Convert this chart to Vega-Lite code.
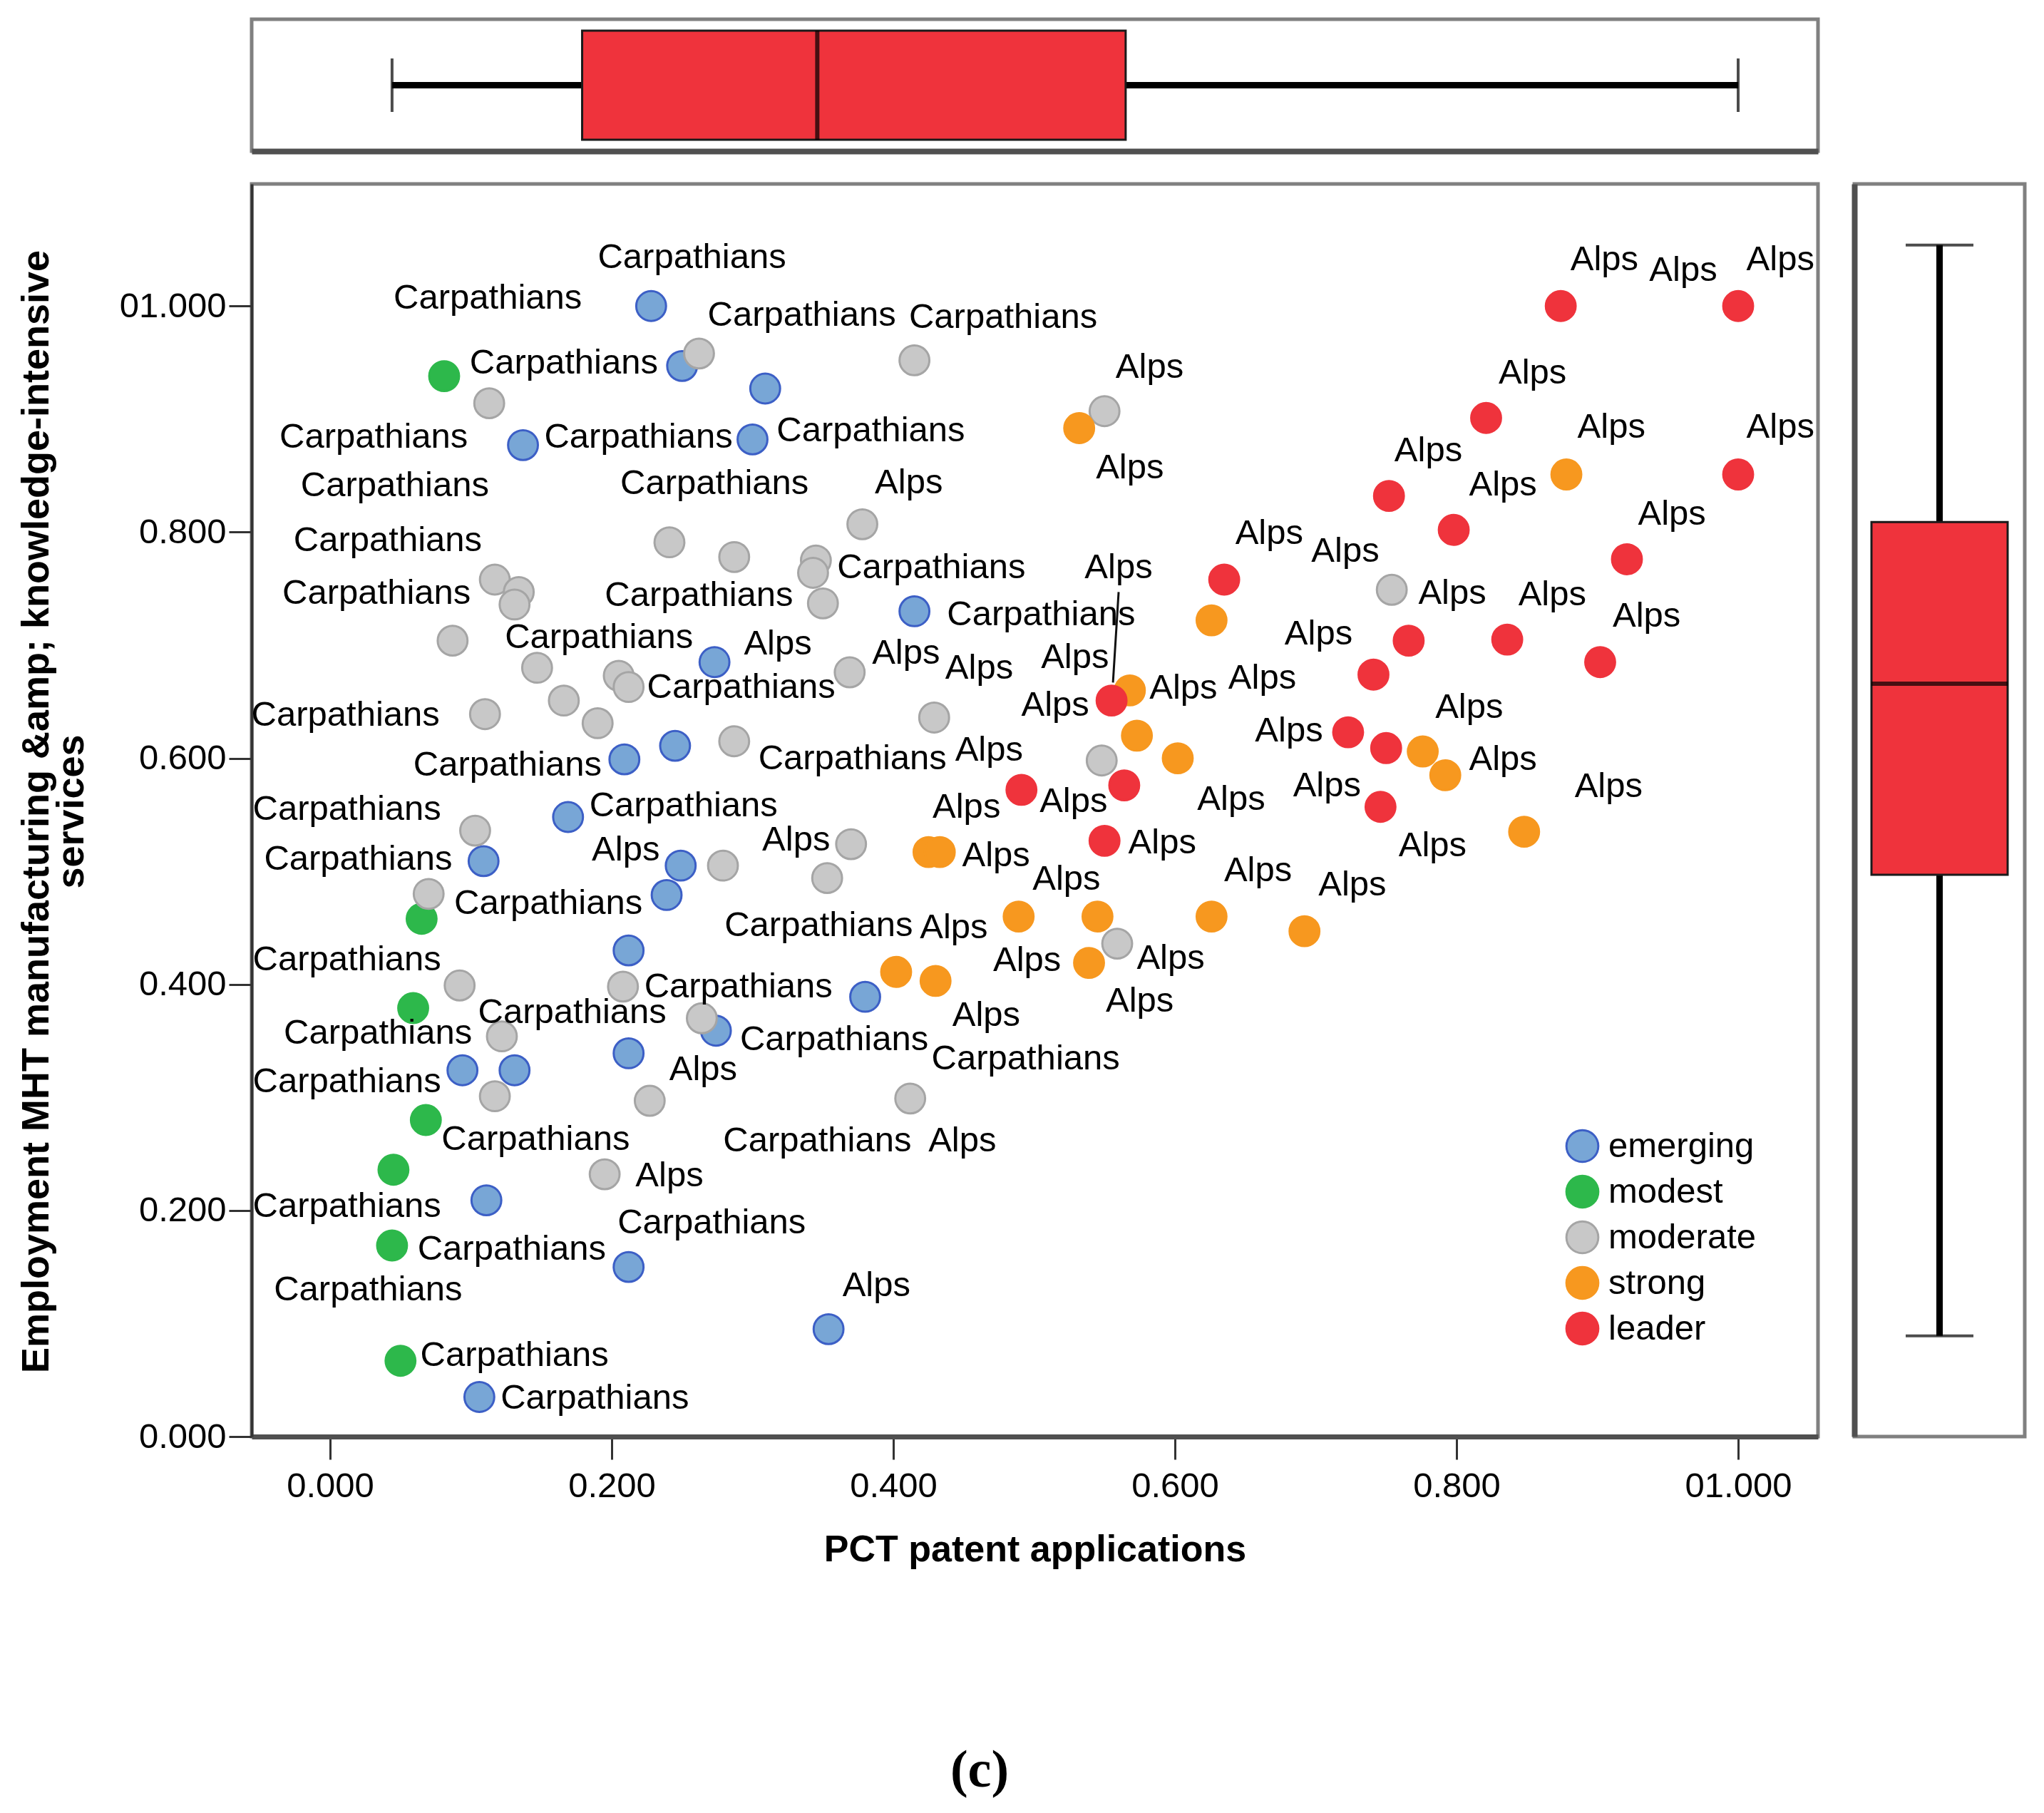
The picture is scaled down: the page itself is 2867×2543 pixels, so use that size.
{
  "$schema": "https://vega.github.io/schema/vega-lite/v6.json",
  "background": "white",
  "padding": {"left": 21, "top": 24, "right": 20, "bottom": 20},
  "config": {
    "font": "Liberation Sans",
    "view": {"stroke": "#808080", "strokeWidth": 5},
    "axis": {"grid": false}
  },
  "title": {
    "text": "(c)", "orient": "bottom", "anchor": "middle", "frame": "bounds",
    "font": "Liberation Serif", "fontSize": 74, "fontWeight": "bold", "color": "black",
    "offset": 246, "dx": -58
  },
  "datasets": {
    "xbox": [{"name": "PCT patent applications", "lower": 0.044, "q1": 0.179, "median": 0.346, "q3": 0.565, "upper": 1.0}],
    "ybox": [{"name": "Employment", "lower": 0.089, "q1": 0.497, "median": 0.666, "q3": 0.809, "upper": 1.054}],
    "leader": [{"pct": 0.560, "pct2": 0.556, "emp": 0.747, "emp2": 0.667}],
    "points": [
      {"pct": 0.228, "emp": 1.000, "level": "emerging"},
      {"pct": 0.250, "emp": 0.947, "level": "emerging"},
      {"pct": 0.309, "emp": 0.927, "level": "emerging"},
      {"pct": 0.137, "emp": 0.877, "level": "emerging"},
      {"pct": 0.300, "emp": 0.882, "level": "emerging"},
      {"pct": 0.415, "emp": 0.730, "level": "emerging"},
      {"pct": 0.273, "emp": 0.685, "level": "emerging"},
      {"pct": 0.209, "emp": 0.599, "level": "emerging"},
      {"pct": 0.245, "emp": 0.611, "level": "emerging"},
      {"pct": 0.169, "emp": 0.548, "level": "emerging"},
      {"pct": 0.109, "emp": 0.509, "level": "emerging"},
      {"pct": 0.249, "emp": 0.505, "level": "emerging"},
      {"pct": 0.239, "emp": 0.479, "level": "emerging"},
      {"pct": 0.212, "emp": 0.430, "level": "emerging"},
      {"pct": 0.380, "emp": 0.389, "level": "emerging"},
      {"pct": 0.274, "emp": 0.359, "level": "emerging"},
      {"pct": 0.212, "emp": 0.339, "level": "emerging"},
      {"pct": 0.094, "emp": 0.324, "level": "emerging"},
      {"pct": 0.131, "emp": 0.324, "level": "emerging"},
      {"pct": 0.111, "emp": 0.209, "level": "emerging"},
      {"pct": 0.212, "emp": 0.150, "level": "emerging"},
      {"pct": 0.354, "emp": 0.095, "level": "emerging"},
      {"pct": 0.106, "emp": 0.035, "level": "emerging"},
      {"pct": 0.081, "emp": 0.938, "level": "modest"},
      {"pct": 0.065, "emp": 0.458, "level": "modest"},
      {"pct": 0.059, "emp": 0.379, "level": "modest"},
      {"pct": 0.068, "emp": 0.280, "level": "modest"},
      {"pct": 0.045, "emp": 0.236, "level": "modest"},
      {"pct": 0.044, "emp": 0.169, "level": "modest"},
      {"pct": 0.050, "emp": 0.067, "level": "modest"},
      {"pct": 0.262, "emp": 0.958, "level": "moderate"},
      {"pct": 0.113, "emp": 0.914, "level": "moderate"},
      {"pct": 0.241, "emp": 0.791, "level": "moderate"},
      {"pct": 0.287, "emp": 0.778, "level": "moderate"},
      {"pct": 0.117, "emp": 0.758, "level": "moderate"},
      {"pct": 0.134, "emp": 0.747, "level": "moderate"},
      {"pct": 0.131, "emp": 0.736, "level": "moderate"},
      {"pct": 0.087, "emp": 0.704, "level": "moderate"},
      {"pct": 0.147, "emp": 0.680, "level": "moderate"},
      {"pct": 0.205, "emp": 0.673, "level": "moderate"},
      {"pct": 0.212, "emp": 0.663, "level": "moderate"},
      {"pct": 0.166, "emp": 0.651, "level": "moderate"},
      {"pct": 0.190, "emp": 0.631, "level": "moderate"},
      {"pct": 0.110, "emp": 0.639, "level": "moderate"},
      {"pct": 0.287, "emp": 0.615, "level": "moderate"},
      {"pct": 0.415, "emp": 0.952, "level": "moderate"},
      {"pct": 0.550, "emp": 0.907, "level": "moderate"},
      {"pct": 0.378, "emp": 0.807, "level": "moderate"},
      {"pct": 0.345, "emp": 0.775, "level": "moderate"},
      {"pct": 0.343, "emp": 0.764, "level": "moderate"},
      {"pct": 0.350, "emp": 0.737, "level": "moderate"},
      {"pct": 0.369, "emp": 0.676, "level": "moderate"},
      {"pct": 0.429, "emp": 0.636, "level": "moderate"},
      {"pct": 0.548, "emp": 0.598, "level": "moderate"},
      {"pct": 0.754, "emp": 0.749, "level": "moderate"},
      {"pct": 0.103, "emp": 0.536, "level": "moderate"},
      {"pct": 0.070, "emp": 0.480, "level": "moderate"},
      {"pct": 0.279, "emp": 0.505, "level": "moderate"},
      {"pct": 0.370, "emp": 0.524, "level": "moderate"},
      {"pct": 0.353, "emp": 0.494, "level": "moderate"},
      {"pct": 0.092, "emp": 0.399, "level": "moderate"},
      {"pct": 0.208, "emp": 0.398, "level": "moderate"},
      {"pct": 0.264, "emp": 0.370, "level": "moderate"},
      {"pct": 0.122, "emp": 0.354, "level": "moderate"},
      {"pct": 0.117, "emp": 0.301, "level": "moderate"},
      {"pct": 0.227, "emp": 0.297, "level": "moderate"},
      {"pct": 0.195, "emp": 0.232, "level": "moderate"},
      {"pct": 0.559, "emp": 0.436, "level": "moderate"},
      {"pct": 0.412, "emp": 0.299, "level": "moderate"},
      {"pct": 0.532, "emp": 0.892, "level": "strong"},
      {"pct": 0.878, "emp": 0.851, "level": "strong"},
      {"pct": 0.626, "emp": 0.722, "level": "strong"},
      {"pct": 0.568, "emp": 0.660, "level": "strong"},
      {"pct": 0.573, "emp": 0.620, "level": "strong"},
      {"pct": 0.602, "emp": 0.600, "level": "strong"},
      {"pct": 0.776, "emp": 0.606, "level": "strong"},
      {"pct": 0.792, "emp": 0.585, "level": "strong"},
      {"pct": 0.848, "emp": 0.535, "level": "strong"},
      {"pct": 0.425, "emp": 0.517, "level": "strong"},
      {"pct": 0.433, "emp": 0.517, "level": "strong"},
      {"pct": 0.489, "emp": 0.460, "level": "strong"},
      {"pct": 0.545, "emp": 0.460, "level": "strong"},
      {"pct": 0.626, "emp": 0.460, "level": "strong"},
      {"pct": 0.692, "emp": 0.447, "level": "strong"},
      {"pct": 0.402, "emp": 0.411, "level": "strong"},
      {"pct": 0.430, "emp": 0.403, "level": "strong"},
      {"pct": 0.539, "emp": 0.419, "level": "strong"},
      {"pct": 0.874, "emp": 1.000, "level": "leader"},
      {"pct": 1.000, "emp": 1.000, "level": "leader"},
      {"pct": 0.821, "emp": 0.901, "level": "leader"},
      {"pct": 1.000, "emp": 0.851, "level": "leader"},
      {"pct": 0.752, "emp": 0.832, "level": "leader"},
      {"pct": 0.798, "emp": 0.802, "level": "leader"},
      {"pct": 0.921, "emp": 0.776, "level": "leader"},
      {"pct": 0.635, "emp": 0.758, "level": "leader"},
      {"pct": 0.766, "emp": 0.704, "level": "leader"},
      {"pct": 0.836, "emp": 0.705, "level": "leader"},
      {"pct": 0.902, "emp": 0.685, "level": "leader"},
      {"pct": 0.741, "emp": 0.674, "level": "leader"},
      {"pct": 0.555, "emp": 0.651, "level": "leader"},
      {"pct": 0.723, "emp": 0.623, "level": "leader"},
      {"pct": 0.750, "emp": 0.609, "level": "leader"},
      {"pct": 0.491, "emp": 0.572, "level": "leader"},
      {"pct": 0.564, "emp": 0.576, "level": "leader"},
      {"pct": 0.746, "emp": 0.557, "level": "leader"},
      {"pct": 0.550, "emp": 0.527, "level": "leader"}
    ],
    "labels": [
      {"pct": 0.257, "emp": 1.043, "region": "Carpathians"},
      {"pct": 0.112, "emp": 1.007, "region": "Carpathians"},
      {"pct": 0.335, "emp": 0.992, "region": "Carpathians"},
      {"pct": 0.478, "emp": 0.990, "region": "Carpathians"},
      {"pct": 0.166, "emp": 0.950, "region": "Carpathians"},
      {"pct": 0.031, "emp": 0.884, "region": "Carpathians"},
      {"pct": 0.219, "emp": 0.884, "region": "Carpathians"},
      {"pct": 0.384, "emp": 0.890, "region": "Carpathians"},
      {"pct": 0.046, "emp": 0.841, "region": "Carpathians"},
      {"pct": 0.273, "emp": 0.843, "region": "Carpathians"},
      {"pct": 0.041, "emp": 0.793, "region": "Carpathians"},
      {"pct": 0.427, "emp": 0.769, "region": "Carpathians"},
      {"pct": 0.033, "emp": 0.746, "region": "Carpathians"},
      {"pct": 0.262, "emp": 0.744, "region": "Carpathians"},
      {"pct": 0.505, "emp": 0.727, "region": "Carpathians"},
      {"pct": 0.191, "emp": 0.707, "region": "Carpathians"},
      {"pct": 0.292, "emp": 0.663, "region": "Carpathians"},
      {"pct": 0.011, "emp": 0.638, "region": "Carpathians"},
      {"pct": 0.126, "emp": 0.594, "region": "Carpathians"},
      {"pct": 0.371, "emp": 0.600, "region": "Carpathians"},
      {"pct": 0.012, "emp": 0.555, "region": "Carpathians"},
      {"pct": 0.251, "emp": 0.558, "region": "Carpathians"},
      {"pct": 0.020, "emp": 0.511, "region": "Carpathians"},
      {"pct": 0.155, "emp": 0.472, "region": "Carpathians"},
      {"pct": 0.347, "emp": 0.452, "region": "Carpathians"},
      {"pct": 0.012, "emp": 0.422, "region": "Carpathians"},
      {"pct": 0.290, "emp": 0.398, "region": "Carpathians"},
      {"pct": 0.172, "emp": 0.375, "region": "Carpathians"},
      {"pct": 0.034, "emp": 0.357, "region": "Carpathians"},
      {"pct": 0.358, "emp": 0.351, "region": "Carpathians"},
      {"pct": 0.012, "emp": 0.314, "region": "Carpathians"},
      {"pct": 0.494, "emp": 0.334, "region": "Carpathians"},
      {"pct": 0.146, "emp": 0.263, "region": "Carpathians"},
      {"pct": 0.346, "emp": 0.262, "region": "Carpathians"},
      {"pct": 0.012, "emp": 0.204, "region": "Carpathians"},
      {"pct": 0.271, "emp": 0.189, "region": "Carpathians"},
      {"pct": 0.129, "emp": 0.166, "region": "Carpathians"},
      {"pct": 0.027, "emp": 0.130, "region": "Carpathians"},
      {"pct": 0.131, "emp": 0.072, "region": "Carpathians"},
      {"pct": 0.188, "emp": 0.034, "region": "Carpathians"},
      {"pct": 0.905, "emp": 1.041, "region": "Alps"},
      {"pct": 0.961, "emp": 1.032, "region": "Alps"},
      {"pct": 1.030, "emp": 1.041, "region": "Alps"},
      {"pct": 0.582, "emp": 0.946, "region": "Alps"},
      {"pct": 0.854, "emp": 0.941, "region": "Alps"},
      {"pct": 0.910, "emp": 0.893, "region": "Alps"},
      {"pct": 1.030, "emp": 0.893, "region": "Alps"},
      {"pct": 0.568, "emp": 0.857, "region": "Alps"},
      {"pct": 0.780, "emp": 0.872, "region": "Alps"},
      {"pct": 0.833, "emp": 0.842, "region": "Alps"},
      {"pct": 0.411, "emp": 0.844, "region": "Alps"},
      {"pct": 0.953, "emp": 0.816, "region": "Alps"},
      {"pct": 0.667, "emp": 0.799, "region": "Alps"},
      {"pct": 0.721, "emp": 0.783, "region": "Alps"},
      {"pct": 0.560, "emp": 0.769, "region": "Alps"},
      {"pct": 0.797, "emp": 0.746, "region": "Alps"},
      {"pct": 0.868, "emp": 0.745, "region": "Alps"},
      {"pct": 0.935, "emp": 0.726, "region": "Alps"},
      {"pct": 0.702, "emp": 0.710, "region": "Alps"},
      {"pct": 0.318, "emp": 0.701, "region": "Alps"},
      {"pct": 0.409, "emp": 0.693, "region": "Alps"},
      {"pct": 0.461, "emp": 0.680, "region": "Alps"},
      {"pct": 0.529, "emp": 0.689, "region": "Alps"},
      {"pct": 0.515, "emp": 0.647, "region": "Alps"},
      {"pct": 0.606, "emp": 0.662, "region": "Alps"},
      {"pct": 0.662, "emp": 0.671, "region": "Alps"},
      {"pct": 0.809, "emp": 0.645, "region": "Alps"},
      {"pct": 0.681, "emp": 0.624, "region": "Alps"},
      {"pct": 0.468, "emp": 0.607, "region": "Alps"},
      {"pct": 0.833, "emp": 0.599, "region": "Alps"},
      {"pct": 0.708, "emp": 0.576, "region": "Alps"},
      {"pct": 0.640, "emp": 0.564, "region": "Alps"},
      {"pct": 0.908, "emp": 0.575, "region": "Alps"},
      {"pct": 0.452, "emp": 0.557, "region": "Alps"},
      {"pct": 0.528, "emp": 0.562, "region": "Alps"},
      {"pct": 0.591, "emp": 0.525, "region": "Alps"},
      {"pct": 0.473, "emp": 0.514, "region": "Alps"},
      {"pct": 0.523, "emp": 0.493, "region": "Alps"},
      {"pct": 0.659, "emp": 0.501, "region": "Alps"},
      {"pct": 0.726, "emp": 0.488, "region": "Alps"},
      {"pct": 0.783, "emp": 0.523, "region": "Alps"},
      {"pct": 0.210, "emp": 0.519, "region": "Alps"},
      {"pct": 0.331, "emp": 0.528, "region": "Alps"},
      {"pct": 0.443, "emp": 0.450, "region": "Alps"},
      {"pct": 0.495, "emp": 0.421, "region": "Alps"},
      {"pct": 0.597, "emp": 0.423, "region": "Alps"},
      {"pct": 0.575, "emp": 0.385, "region": "Alps"},
      {"pct": 0.466, "emp": 0.373, "region": "Alps"},
      {"pct": 0.265, "emp": 0.325, "region": "Alps"},
      {"pct": 0.449, "emp": 0.262, "region": "Alps"},
      {"pct": 0.241, "emp": 0.231, "region": "Alps"},
      {"pct": 0.388, "emp": 0.134, "region": "Alps"}
    ]
  },
  "bounds": "flush",
  "spacing": 46,
  "vconcat": [
    {
      "width": 2197,
      "height": 185,
      "data": {"name": "xbox"},
      "encoding": {
        "y": {"field": "name", "type": "nominal", "axis": null}
      },
      "layer": [
        {
          "mark": {"type": "rule", "color": "black", "strokeWidth": 9},
          "encoding": {
            "x": {"field": "lower", "type": "quantitative", "scale": {"domain": [-0.0557, 1.0567], "nice": false, "zero": false},
                  "axis": {"labels": false, "ticks": false, "title": null, "domain": true, "domainColor": "#505050", "domainWidth": 8, "grid": false}},
            "x2": {"field": "upper"}
          }
        },
        {
          "mark": {"type": "bar", "size": 153, "fill": "#ef333c", "stroke": "#1a1a1a", "strokeWidth": 3},
          "encoding": {
            "x": {"field": "q1", "type": "quantitative"},
            "x2": {"field": "q3"}
          }
        },
        {
          "mark": {"type": "tick", "color": "black", "size": 153, "thickness": 6, "orient": "vertical"},
          "encoding": {"x": {"field": "median", "type": "quantitative"}}
        },
        {
          "mark": {"type": "tick", "color": "black", "size": 75, "thickness": 4, "orient": "vertical"},
          "encoding": {"x": {"field": "lower", "type": "quantitative"}}
        },
        {
          "mark": {"type": "tick", "color": "black", "size": 75, "thickness": 4, "orient": "vertical"},
          "encoding": {"x": {"field": "upper", "type": "quantitative"}}
        }
      ]
    },
    {
      "bounds": "flush",
      "spacing": 51,
      "hconcat": [
        {
          "width": 2197,
          "height": 1757,
          "layer": [
            {
              "data": {"name": "points"},
              "mark": {"type": "circle", "size": 1750, "strokeWidth": 3, "opacity": 1, "fillOpacity": 1},
              "encoding": {
                "x": {
                  "field": "pct", "type": "quantitative",
                  "scale": {"domain": [-0.0557, 1.0567], "nice": false, "zero": false},
                  "axis": {
                    "values": [0, 0.2, 0.4, 0.6, 0.8, 1],
                    "labelExpr": "datum.value == 1 ? '01.000' : format(datum.value, '.3f')",
                    "labelFont": "Liberation Sans", "labelFontSize": 49, "labelColor": "black",
                    "labelPadding": 13, "labelFlush": false, "labelOverlap": false, "labelBound": false,
                    "tickSize": 32, "tickWidth": 3, "tickColor": "#333333",
                    "domainColor": "#505050", "domainWidth": 7,
                    "title": "PCT patent applications",
                    "titleFont": "Liberation Sans", "titleFontSize": 52, "titleFontWeight": "bold", "titleColor": "black",
                    "titleBaseline": "alphabetic", "titleY": 174
                  }
                },
                "y": {
                  "field": "emp", "type": "quantitative",
                  "scale": {"domain": [0, 1.108], "nice": false, "zero": false},
                  "axis": {
                    "values": [0, 0.2, 0.4, 0.6, 0.8, 1],
                    "labelExpr": "datum.value == 1 ? '01.000' : format(datum.value, '.3f')",
                    "labelFont": "Liberation Sans", "labelFontSize": 49, "labelColor": "black",
                    "labelPadding": 4, "labelFlush": false, "labelOverlap": false, "labelBound": false,
                    "tickSize": 32, "tickWidth": 3, "tickColor": "#333333",
                    "domainColor": "#333333", "domainWidth": 4,
                    "title": ["Employment MHT manufacturing &amp; knowledge-intensive", "services"],
                    "titleFont": "Liberation Sans", "titleFontSize": 54, "titleFontWeight": "bold", "titleColor": "black",
                    "titleAngle": -90, "titleAlign": "center", "titleBaseline": "alphabetic",
                    "titleLineHeight": 49, "titleX": -286, "titleY": 880
                  }
                },
                "fill": {
                  "field": "level", "type": "nominal",
                  "scale": {"domain": ["emerging", "modest", "moderate", "strong", "leader"],
                            "range": ["#78a6d6", "#2db84b", "#c8c8c8", "#f7981f", "#ef333c"]},
                  "legend": {"orient": "none", "legendX": 1842, "legendY": 1556, "title": null, "padding": 0,
                             "labelFont": "Liberation Sans", "labelFontSize": 49, "labelColor": "black", "labelLimit": 600,
                             "symbolType": "circle", "symbolSize": 2000, "symbolStrokeWidth": 3,
                             "rowPadding": 7, "labelOffset": 12}
                },
                "stroke": {
                  "field": "level", "type": "nominal",
                  "scale": {"domain": ["emerging", "modest", "moderate", "strong", "leader"],
                            "range": ["#3c5fc6", "#2db84b", "#a5a5a5", "#f7981f", "#ef333c"]},
                  "legend": {"orient": "none", "legendX": 1842, "legendY": 1556, "title": null, "padding": 0,
                             "labelFont": "Liberation Sans", "labelFontSize": 49, "labelColor": "black", "labelLimit": 600,
                             "symbolType": "circle", "symbolSize": 2000, "symbolStrokeWidth": 3,
                             "rowPadding": 7, "labelOffset": 12}
                }
              }
            },
            {
              "data": {"name": "leader"},
              "mark": {"type": "rule", "color": "#111111", "strokeWidth": 3},
              "encoding": {
                "x": {"field": "pct", "type": "quantitative"},
                "x2": {"field": "pct2"},
                "y": {"field": "emp", "type": "quantitative"},
                "y2": {"field": "emp2"}
              }
            },
            {
              "data": {"name": "labels"},
              "mark": {"type": "text", "font": "Liberation Sans", "fontSize": 49, "color": "black", "align": "center", "baseline": "middle"},
              "encoding": {
                "x": {"field": "pct", "type": "quantitative"},
                "y": {"field": "emp", "type": "quantitative"},
                "text": {"field": "region", "type": "nominal"}
              }
            }
          ]
        },
        {
          "width": 239,
          "height": 1757,
          "data": {"name": "ybox"},
          "encoding": {
            "x": {"field": "name", "type": "nominal", "axis": null}
          },
          "layer": [
            {
              "mark": {"type": "rule", "color": "black", "strokeWidth": 9},
              "encoding": {
                "y": {"field": "lower", "type": "quantitative", "scale": {"domain": [0, 1.108], "nice": false, "zero": false},
                      "axis": {"labels": false, "ticks": false, "title": null, "domain": true, "domainColor": "#505050", "domainWidth": 8, "grid": false}},
                "y2": {"field": "upper"}
              }
            },
            {
              "mark": {"type": "bar", "size": 191, "fill": "#ef333c", "stroke": "#1a1a1a", "strokeWidth": 3},
              "encoding": {
                "y": {"field": "q1", "type": "quantitative"},
                "y2": {"field": "q3"}
              }
            },
            {
              "mark": {"type": "tick", "color": "black", "size": 191, "thickness": 6, "orient": "horizontal"},
              "encoding": {"y": {"field": "median", "type": "quantitative"}}
            },
            {
              "mark": {"type": "tick", "color": "black", "size": 95, "thickness": 4, "orient": "horizontal"},
              "encoding": {"y": {"field": "lower", "type": "quantitative"}}
            },
            {
              "mark": {"type": "tick", "color": "black", "size": 95, "thickness": 4, "orient": "horizontal"},
              "encoding": {"y": {"field": "upper", "type": "quantitative"}}
            }
          ]
        }
      ]
    }
  ]
}
